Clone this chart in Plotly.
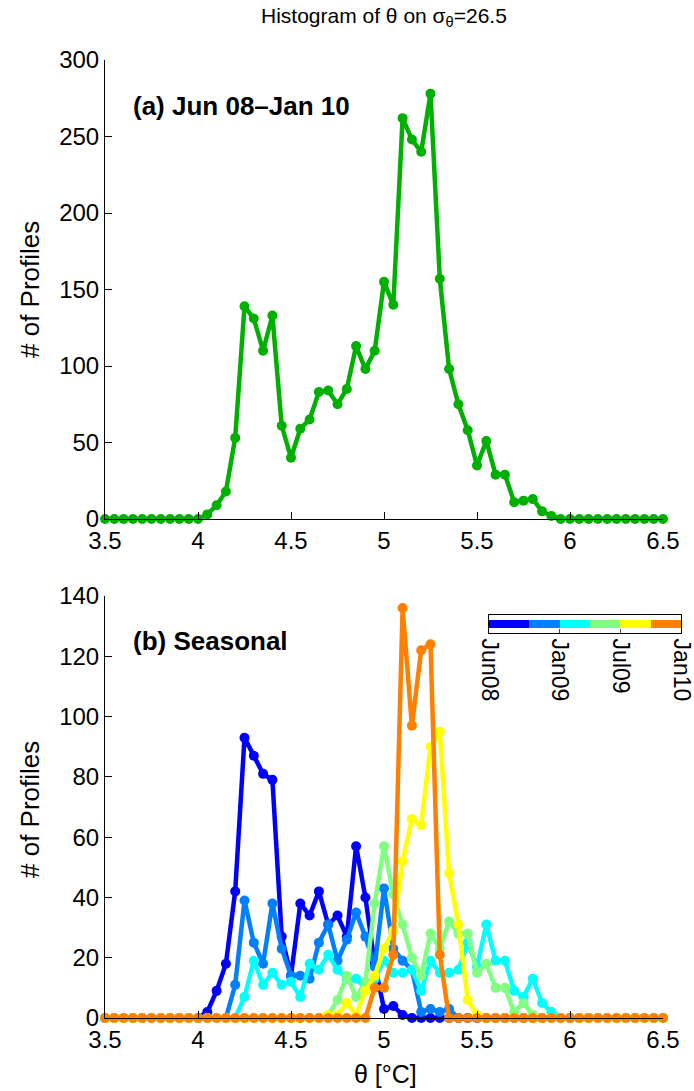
import numpy as np
import plotly.graph_objects as go

# Potential temperature bin centres (deg C)
theta_bins = np.round(np.arange(3.5, 6.5001, 0.05), 2)

# (a) all profiles, Jun 08 - Jan 10
counts_all = [0, 0, 0, 0, 0, 0, 0, 0, 0, 0, 0,
              3, 9, 18, 53, 139, 131, 110, 133, 61, 40, 59, 65, 83, 84, 75, 85, 113, 98, 110,
              155, 140, 262, 248, 240, 278, 157, 98, 75, 58, 35, 51, 29, 29, 11, 12, 13, 5, 2,
              0, 0, 0, 0, 0, 0, 0, 0, 0, 0, 0, 0]

# (b) seasonal subsets
counts_jun08 = [0] * 11 + [2, 9, 18, 42, 93, 87, 81, 79, 27, 14, 38, 34, 42, 31, 34, 27, 57, 40, 18,
                           3, 4, 1] + [0] * 28
counts_oct08 = [0] * 14 + [11, 39, 25, 18, 38, 23, 14, 14, 13, 25, 31, 19, 26, 35, 27, 17,
                           43, 23, 19, 16, 2, 3, 2, 3] + [0] * 23
counts_jan09 = [0] * 15 + [7, 19, 11, 15, 11, 12, 7, 18, 16, 21, 16, 13, 13, 10, 13,
                           19, 15, 15, 16, 9, 19, 15, 15, 16, 25, 17, 31, 19, 19, 9, 7, 13, 5, 2] + [0] * 12
counts_apr09 = [0] * 24 + [1, 6, 14, 7, 12, 38, 57, 41, 31, 20, 14, 28, 23, 32, 28, 28,
                           15, 18, 10, 10, 2, 5, 1] + [0] * 14
counts_jul09 = [0] * 24 + [1, 1, 5, 1, 9, 14, 23, 29, 52, 66, 64, 90, 95, 48, 31, 6, 1] + [0] * 20
counts_oct09 = [0] * 29 + [10, 10, 21, 136, 97, 122, 124, 21] + [0] * 24

season_counts = [counts_jun08, counts_oct08, counts_jan09, counts_apr09, counts_jul09, counts_oct09]
season_colors = ["#0000FF", "#0080FF", "#00FFFF", "#80FF80", "#FFFF00", "#FF8000"]

# Season boundaries in months after Jun 2008, and colour-bar tick labels
season_edges = [0, 4, 7, 10, 13, 16, 19]
cbar_tickvals = [0, 7, 13, 19]
cbar_ticktext = ["Jun08", "Jan09", "Jul09", "Jan10"]

x_ticks = [3.5, 4, 4.5, 5, 5.5, 6, 6.5]
x_ticktext = ["3.5", "4", "4.5", "5", "5.5", "6", "6.5"]

FONT = "Liberation Sans, Arial, Helvetica, sans-serif"
W, H = 694, 1091
LW, MS = 4.5, 10

fig = go.Figure()

fig.add_trace(go.Scatter(
    x=theta_bins, y=counts_all, mode="lines+markers",
    line=dict(color="#00B000", width=LW), marker=dict(color="#00B000", size=MS),
    cliponaxis=False, xaxis="x", yaxis="y", showlegend=False))

for vals, col in zip(season_counts, season_colors):
    fig.add_trace(go.Scatter(
        x=theta_bins, y=vals, mode="lines+markers",
        line=dict(color=col, width=LW), marker=dict(color=col, size=MS),
        cliponaxis=False, xaxis="x2", yaxis="y2", showlegend=False))

# Colour bar for the seasons
fig.add_trace(go.Bar(
    y=[0] * 6, x=np.diff(season_edges), base=season_edges[:-1], orientation="h",
    width=1, marker=dict(color=season_colors, line=dict(width=0)),
    xaxis="x3", yaxis="y3", showlegend=False, hoverinfo="skip"))

xdom = [105 / W, 663 / W]
axis_common = dict(showline=True, linecolor="black", linewidth=1, ticks="inside",
                   ticklen=7, tickcolor="black", mirror=False, showgrid=False, zeroline=False,
                   automargin=False, ticklabeloverflow="allow",
                   tickfont=dict(family=FONT, size=24, color="black"))

fig.update_layout(
    width=W, height=H, margin=dict(l=0, r=0, t=0, b=0, pad=0),
    paper_bgcolor="white", plot_bgcolor="white", bargap=0,
    font=dict(family=FONT, color="black"),
    xaxis=dict(domain=xdom, range=[3.5, 6.5], tickvals=x_ticks, ticktext=x_ticktext,
               anchor="y", **axis_common),
    yaxis=dict(domain=[1 - 519 / H, 1 - 60 / H], range=[0, 300], dtick=50, anchor="x",
               **axis_common),
    xaxis2=dict(domain=xdom, range=[3.5, 6.5], tickvals=x_ticks, ticktext=x_ticktext,
                anchor="y2", **axis_common),
    yaxis2=dict(domain=[1 - 1018 / H, 1 - 596 / H], range=[0, 140], dtick=20, anchor="x2",
                **axis_common),
    xaxis3=dict(domain=[489 / W, 681 / W], range=[0, 19], tickvals=cbar_tickvals,
                ticktext=cbar_ticktext, tickangle=90, anchor="y3", showline=True,
                linecolor="black", linewidth=1, ticks="inside", ticklen=4, mirror=True,
                showgrid=False, zeroline=False, automargin=False, ticklabeloverflow="allow",
                tickfont=dict(family=FONT, size=23, color="black")),
    yaxis3=dict(domain=[1 - 633 / H, 1 - 615 / H], range=[-1.1, 1.1], anchor="x3",
                showline=True, linecolor="black", linewidth=1, mirror=True, automargin=False,
                showticklabels=False, ticks="", showgrid=False, zeroline=False),
    annotations=[
        dict(text="Histogram of θ on σ<sub>θ</sub>=26.5", x=384 / W, y=1 - 17 / H,
             xref="paper", yref="paper", showarrow=False, xanchor="center", yanchor="middle",
             font=dict(family=FONT, size=21, color="black")),
        dict(text="<b>(a) Jun 08–Jan 10</b>", x=131 / W, y=1 - 106 / H,
             xref="paper", yref="paper", showarrow=False, xanchor="left", yanchor="middle",
             font=dict(family=FONT, size=26, color="black")),
        dict(text="<b>(b) Seasonal</b>", x=131 / W, y=1 - 641 / H,
             xref="paper", yref="paper", showarrow=False, xanchor="left", yanchor="middle",
             font=dict(family=FONT, size=26, color="black")),
        dict(text="# of Profiles", x=30 / W, y=1 - 290 / H, textangle=-90,
             xref="paper", yref="paper", showarrow=False, xanchor="center", yanchor="middle",
             font=dict(family=FONT, size=26, color="black")),
        dict(text="# of Profiles", x=30 / W, y=1 - 810 / H, textangle=-90,
             xref="paper", yref="paper", showarrow=False, xanchor="center", yanchor="middle",
             font=dict(family=FONT, size=26, color="black")),
        dict(text="θ [°C]", x=385 / W, y=1 - 1074 / H,
             xref="paper", yref="paper", showarrow=False, xanchor="center", yanchor="middle",
             font=dict(family=FONT, size=25, color="black")),
    ],
)

fig.write_html("out.html")
